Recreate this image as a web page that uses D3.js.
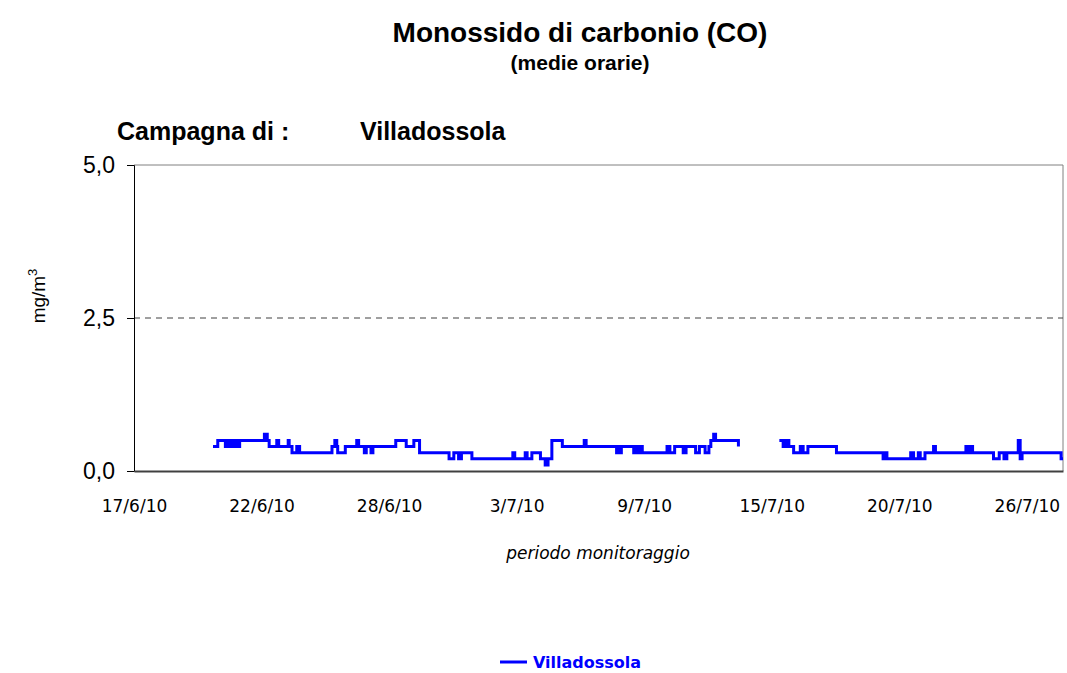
<!DOCTYPE html>
<html>
<head>
<meta charset="utf-8">
<script src="https://cdn.jsdelivr.net/npm/d3@7"></script>
<style>
  body { margin: 0; background: #fff; }
  svg { display: block; }
</style>
</head>
<body>
<div id="chart"></div>
<script>

// Hourly series, stored as runs: value holds from this hour until the next change
// (hours counted from the start of the category axis, null = no data)
const changeHours = [
  83, 88, 96, 99, 102, 105, 108, 111, 137, 140, 142, 150, 152, 162, 163, 166, 171, 174,
  208, 211, 213, 214, 222, 234, 236, 242, 244, 249, 251, 275, 286, 294, 300, 331, 336,
  341, 344, 355, 398, 400, 411, 413, 418, 427, 432, 435, 439, 450, 473, 475, 507, 509,
  510, 512, 525, 527, 529, 531, 534, 560, 563, 568, 577, 580, 590, 594, 600, 604, 606,
  609, 611, 635, 638,
  678, 682, 685, 688, 693, 700, 703, 708, 738, 787, 789, 791, 816, 819, 824, 826, 831,
  840, 842, 874, 876, 879, 881, 903, 909, 914, 917, 929, 931, 933, 974, 976
];
const changeValues = [
  0.4, 0.5, 0.4, 0.5, 0.4, 0.5, 0.4, 0.5, 0.6, 0.5, 0.4, 0.5, 0.4, 0.5, 0.4, 0.3, 0.4, 0.3,
  0.4, 0.5, 0.4, 0.3, 0.4, 0.5, 0.4, 0.3, 0.4, 0.3, 0.4, 0.5, 0.4, 0.5, 0.3, 0.2, 0.3,
  0.2, 0.3, 0.2, 0.3, 0.2, 0.3, 0.2, 0.3, 0.2, 0.1, 0.2, 0.5, 0.4, 0.5, 0.4, 0.3, 0.4,
  0.3, 0.4, 0.3, 0.4, 0.3, 0.4, 0.3, 0.4, 0.3, 0.4, 0.3, 0.4, 0.3, 0.4, 0.3, 0.4, 0.5,
  0.6, 0.5, 0.4, null,
  0.5, 0.4, 0.5, 0.4, 0.3, 0.4, 0.3, 0.4, 0.3, 0.2, 0.3, 0.2, 0.3, 0.2, 0.3, 0.2, 0.3,
  0.4, 0.3, 0.4, 0.3, 0.4, 0.3, 0.2, 0.3, 0.2, 0.3, 0.5, 0.2, 0.3, 0.2, 0.2
];

// category axis: a label every 134 hours
const tickHours = [0, 134, 268, 402, 536, 670, 804, 938];
const tickLabels = ["17/6/10", "22/6/10", "28/6/10", "3/7/10", "9/7/10", "15/7/10", "20/7/10", "26/7/10"];
const totalHours = 976;

const yTicks = [0, 2.5, 5];
const limitValue = 2.5;

const seriesName = "Villadossola";

// Set the dimensions
let width = 1067, height = 673;
let plot = { left: 134, right: 1063, top: 165, bottom: 471 };

let svg = d3.select("#chart")
    .append("svg")
    .attr("width", width)
    .attr("height", height);

let x = d3.scaleLinear().domain([0, totalHours]).range([plot.left, plot.right]);
let y = d3.scaleLinear().domain([0, 5]).range([plot.bottom, plot.top]);

let it = d3.formatLocale({ decimal: ",", thousands: ".", grouping: [3], currency: ["", "€"] });
let fmt = it.format(".1f");

// Plot frame (top and right in grey)
svg.append("path")
    .attr("d", `M${plot.left},${plot.top}H${plot.right}V${plot.bottom}`)
    .attr("fill", "none")
    .attr("stroke", "#808080")
    .attr("stroke-width", 1);

// dashed line at 2,5
svg.append("line")
    .attr("x1", plot.left).attr("x2", plot.right)
    .attr("y1", y(limitValue)).attr("y2", y(limitValue))
    .attr("stroke", "#404040")
    .attr("stroke-width", 1)
    .attr("stroke-dasharray", "6,5");

// Y axis
let yAxis = svg.append("g")
    .attr("transform", `translate(${plot.left},0)`)
    .call(d3.axisLeft(y).tickValues(yTicks).tickFormat(fmt).tickSizeOuter(0).tickSize(7).tickPadding(12));
yAxis.select(".domain").attr("stroke", "#000");
yAxis.selectAll("text")
    .attr("font-family", "Liberation Sans, Arial, sans-serif")
    .attr("font-size", 23)
    .attr("fill", "#000");

// X axis (no tick marks)
let xAxis = svg.append("g")
    .attr("transform", `translate(0,${plot.bottom})`)
    .call(d3.axisBottom(x).tickValues(tickHours).tickFormat((d, i) => tickLabels[i]).tickSize(0).tickSizeOuter(0).tickPadding(29));
xAxis.select(".domain").attr("stroke", "#404040").attr("stroke-width", 2);
xAxis.selectAll("text")
    .attr("font-family", "Comic Sans MS, DejaVu Sans, sans-serif")
    .attr("font-size", 17)
    .attr("fill", "#000");

// Build the line points from the runs
let points = [];
changeHours.forEach((h, i) => {
    points.push({ h: h, v: changeValues[i] });
});

let line = d3.line()
    .defined(d => d.v !== null)
    .x(d => x(d.h))
    .y(d => y(d.v))
    .curve(d3.curveStepAfter);

svg.append("path")
    .datum(points)
    .attr("d", line)
    .attr("fill", "none")
    .attr("stroke", "#0000ff")
    .attr("stroke-width", 3)
    .attr("stroke-linejoin", "miter");

// Titles
svg.append("text")
    .attr("x", 580).attr("y", 42)
    .attr("text-anchor", "middle")
    .attr("font-family", "Liberation Sans, Arial, sans-serif")
    .attr("font-weight", "bold")
    .attr("font-size", 28)
    .text("Monossido di carbonio (CO)");

svg.append("text")
    .attr("x", 580).attr("y", 70)
    .attr("text-anchor", "middle")
    .attr("font-family", "Liberation Sans, Arial, sans-serif")
    .attr("font-weight", "bold")
    .attr("font-size", 21)
    .text("(medie orarie)");

svg.append("text")
    .attr("x", 117).attr("y", 140)
    .attr("font-family", "Liberation Sans, Arial, sans-serif")
    .attr("font-weight", "bold")
    .attr("font-size", 25)
    .text("Campagna di :");

svg.append("text")
    .attr("x", 360).attr("y", 140)
    .attr("font-family", "Liberation Sans, Arial, sans-serif")
    .attr("font-weight", "bold")
    .attr("font-size", 25)
    .text(seriesName);

// Y axis title with superscript
let yTitle = svg.append("text")
    .attr("transform", `translate(45,${(plot.top + plot.bottom) / 2 - 22}) rotate(-90)`)
    .attr("text-anchor", "middle")
    .attr("font-family", "Liberation Sans, Arial, sans-serif")
    .attr("font-size", 19);
yTitle.append("tspan").text("mg/m");
yTitle.append("tspan").attr("dy", -8).attr("font-size", 13).text("3");

// X axis title
svg.append("text")
    .attr("x", 598).attr("y", 559)
    .attr("text-anchor", "middle")
    .attr("font-family", "Comic Sans MS, DejaVu Sans, sans-serif")
    .attr("font-style", "italic")
    .attr("font-size", 17)
    .text("periodo monitoraggio");

// Legend
let legend = svg.append("g").attr("transform", "translate(500,662)");
legend.append("line")
    .attr("x1", 0).attr("x2", 27)
    .attr("stroke", "#0000ff")
    .attr("stroke-width", 3);
legend.append("text")
    .attr("x", 33).attr("y", 6)
    .attr("font-family", "Comic Sans MS, DejaVu Sans, sans-serif")
    .attr("font-weight", "bold")
    .attr("font-size", 16)
    .attr("fill", "#0000ff")
    .text(seriesName);

</script>
</body>
</html>
